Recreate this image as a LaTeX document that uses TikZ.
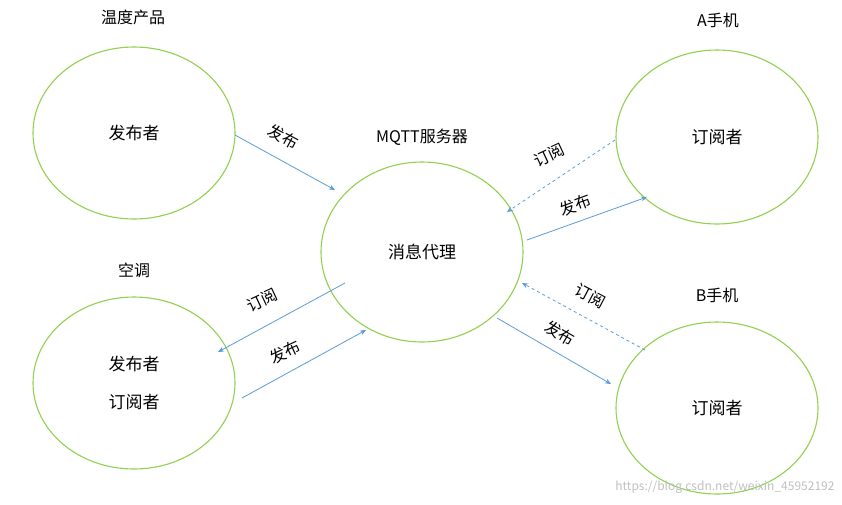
\documentclass[tikz,border=0pt]{standalone}
\usepackage{fontspec}
\setmainfont{Noto Sans CJK SC}
\usetikzlibrary{arrows.meta,shapes.geometric}
\definecolor{eg}{RGB}{146,208,80}
\definecolor{ab}{RGB}{91,155,213}
\begin{document}
\begin{tikzpicture}[x=1pt,y=-1pt,
  ell/.style={draw=eg,line width=1.1pt,ellipse,inner sep=0pt,minimum width=202pt,minimum height=172pt,font=\fontsize{17}{22}\selectfont,align=center},
  ttl/.style={font=\fontsize{16}{18}\selectfont},
  lbl/.style={font=\fontsize{16}{18}\selectfont,inner sep=0pt},
  arr/.style={draw=ab,line width=0.8pt,-{Stealth[length=6pt,width=5pt]}},
  darr/.style={arr,dashed}]
\useasboundingbox (0,0) rectangle (842,504);
\node[ell] (p) at (134,133) {发布者};
\node[ell,minimum height=180pt] (m) at (422,252) {消息代理};
\node[ell,minimum height=174pt] (a) at (717,137) {订阅者};
\node[ell] (k) at (134,383) {发布者\\[16pt]订阅者};
\node[ell] (b) at (717,408) {订阅者};
\node[ttl] (t1) at (133,17) {温度产品};
\node[ttl] (t2) at (422,137) {MQTT服务器};
\node[ttl] (t3) at (718,20) {A手机};
\node[ttl] (t4) at (134,270) {空调};
\node[ttl] (t5) at (717,295) {B手机};
\coordinate (c1) at (235,135); \coordinate (c2) at (335,190);
\coordinate (c3) at (615,140); \coordinate (c4) at (507,212);
\coordinate (c5) at (527,240); \coordinate (c6) at (647,197);
\coordinate (c7) at (345,283); \coordinate (c8) at (218,352);
\coordinate (c9) at (242,398); \coordinate (c10) at (366,330);
\coordinate (c11) at (645,350); \coordinate (c12) at (522,283);
\coordinate (c13) at (497,318); \coordinate (c14) at (611,384);
\draw[arr] (c1) -- (c2);
\draw[darr] (c3) -- (c4);
\draw[arr] (c5) -- (c6);
\draw[arr] (c7) -- (c8);
\draw[arr] (c9) -- (c10);
\draw[darr] (c11) -- (c12);
\draw[arr] (c13) -- (c14);
\node[lbl,rotate=-28] (l1) at (283,137) {发布};
\node[lbl,rotate=25] (l2) at (549,155) {订阅};
\node[lbl,rotate=20] (l3) at (575,205) {发布};
\node[lbl,rotate=25] (l4) at (262,300) {订阅};
\node[lbl,rotate=25] (l5) at (285,352) {发布};
\node[lbl,rotate=-28] (l6) at (590,296) {订阅};
\node[lbl,rotate=-30] (l7) at (560,333) {发布};
\node[font=\fontsize{12}{14}\selectfont,text=black!25,anchor=east] (w) at (838,487) {https://blog.csdn.net/weixin\_45952192};
\end{tikzpicture}
\end{document}
